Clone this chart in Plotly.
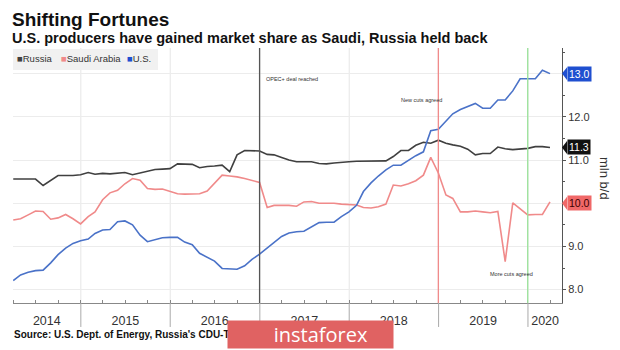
import pandas as pd
import plotly.graph_objects as go

# ---------------- data ----------------
months = pd.date_range("2014-03-31", periods=73, freq="ME")

russia = [10.56, 10.56, 10.55, 10.56, 10.41, 10.53, 10.64, 10.64, 10.64, 10.66,
          10.71, 10.67, 10.69, 10.68, 10.70, 10.71, 10.66, 10.70, 10.74, 10.78,
          10.79, 10.80, 10.91, 10.91, 10.90, 10.82, 10.85, 10.86, 10.88, 10.73,
          11.12, 11.22, 11.22, 11.21, 11.13, 11.12, 11.06, 11.00, 10.96, 10.96,
          10.96, 10.92, 10.91, 10.93, 10.95, 10.96, 10.97, 10.97, 10.97, 10.97,
          10.98, 11.08, 11.22, 11.22, 11.34, 11.41, 11.39, 11.46, 11.39, 11.35,
          11.32, 11.25, 11.12, 11.15, 11.15, 11.30, 11.26, 11.24, 11.25, 11.27,
          11.31, 11.31, 11.29]

saudi = [9.61, 9.64, 9.73, 9.82, 9.81, 9.63, 9.66, 9.74, 9.64, 9.52,
         9.69, 9.80, 10.08, 10.24, 10.30, 10.45, 10.57, 10.53, 10.34, 10.32,
         10.33, 10.27, 10.22, 10.21, 10.21, 10.22, 10.28, 10.45, 10.65, 10.63,
         10.61, 10.57, 10.53, 10.48, 9.90, 9.95, 9.95, 9.95, 9.93, 10.03,
         10.04, 10.00, 10.00, 10.00, 9.98, 9.97, 9.96, 9.90, 9.89, 9.92,
         9.98, 10.42, 10.40, 10.45, 10.52, 10.65, 11.06, 10.70, 10.19, 10.11,
         9.80, 9.80, 9.82, 9.80, 9.78, 9.81, 8.65, 10.01, 9.88, 9.73,
         9.74, 9.74, 10.03]

us = [8.21, 8.34, 8.40, 8.44, 8.45, 8.62, 8.81, 8.96, 9.07, 9.13,
      9.17, 9.30, 9.38, 9.39, 9.57, 9.59, 9.50, 9.26, 9.11, 9.16,
      9.20, 9.21, 9.21, 9.10, 9.04, 8.84, 8.74, 8.66, 8.49, 8.48,
      8.47, 8.55, 8.70, 8.82, 8.96, 9.07, 9.23, 9.31, 9.34, 9.35,
      9.45, 9.55, 9.56, 9.56, 9.69, 9.80, 9.95, 10.27, 10.47, 10.63,
      10.77, 10.88, 10.88, 11.00, 11.10, 11.19, 11.68, 11.71, 11.89, 12.07,
      12.17, 12.24, 12.31, 12.20, 12.20, 12.39, 12.39, 12.60, 12.88, 12.88,
      12.88, 13.08, 13.00]

year_labels = ["2014", "2015", "2016", "2017", "2018", "2019", "2020"]
year_label_pos = ["2014-08-15", "2015-07-02", "2016-07-01", "2017-07-02",
                  "2018-07-02", "2019-07-02", "2020-03-11"]
year_bounds = ["2015-01-01", "2016-01-01", "2017-01-01", "2018-01-01",
               "2019-01-01", "2020-01-01"]

events = [("2016-12-31", "#555555", "OPEC+ deal reached", "2017-01-20", 12.875, "left"),
          ("2018-12-31", "#f08a8a", "New cuts agreed", "2018-10-22", 12.39, "center"),
          ("2019-12-31", "#9be39b", "More cuts agreed", "2019-10-26", 8.36, "center")]

tags = [("13.0", 13.0, "#1f4fd0", "white"),
        ("11.3", 11.29, "#111111", "white"),
        ("10.0", 10.0, "#f06868", "#3a0000")]

C_RUS, C_SAU, C_US = "#404040", "#f08a8a", "#4a72c8"

# ---------------- figure ----------------
W, H = 620, 350
L, R, T, B = 13, 58, 48, 47
pw, ph = W - L - R, H - T - B


def px_x(px):
    return (px - L) / pw


def px_y(py):
    return (H - B - py) / ph


fig = go.Figure()
for name, vals, col in [("Russia", russia, C_RUS), ("Saudi Arabia", saudi, C_SAU), ("U.S.", us, C_US)]:
    fig.add_trace(go.Scatter(x=months, y=vals, mode="lines", name=name,
                             line=dict(color=col, width=1.6), showlegend=False))

shapes = []
annotations = []

# year gridlines and dividers below axis
for d in year_bounds:
    shapes.append(dict(type="line", xref="x", yref="paper", x0=d, x1=d, y0=0, y1=1,
                       line=dict(color="#e6e6e6", width=1), layer="below"))
    shapes.append(dict(type="line", xref="x", yref="paper", x0=d, x1=d, y0=0, y1=-0.094,
                       line=dict(color="#aaaaaa", width=1)))

# event lines + texts
for d, col, txt, tx, ty, anc in events:
    shapes.append(dict(type="line", xref="x", yref="paper", x0=d, x1=d, y0=0, y1=1,
                       line=dict(color=col, width=1.3)))
    annotations.append(dict(x=tx, y=ty, xref="x", yref="y", text=txt, showarrow=False,
                            xanchor=anc, yanchor="middle",
                            font=dict(size=5.5, color="#333333", family="Liberation Sans")))

# value tags on right axis
for txt, val, bg, fc in tags:
    shapes.append(dict(type="path", xref="paper", yref="y",
                       path=f"M 1.0 {val} L 1.0095 {val + 0.155} L 1.0095 {val - 0.155} Z",
                       fillcolor=bg, line=dict(width=0)))
    annotations.append(dict(x=1.0, y=val, xref="paper", yref="y", text=txt, showarrow=False,
                            xanchor="left", yanchor="middle", xshift=5, bgcolor=bg, borderpad=1,
                            font=dict(size=10.5, color=fc, family="Liberation Sans")))

# legend box
shapes.append(dict(type="rect", xref="paper", yref="paper", x0=px_x(13), x1=px_x(158),
                   y0=px_y(70), y1=px_y(49), fillcolor="#f1f1f1", line=dict(width=0), layer="below"))
for lx, col, name in [(15, C_RUS, "Russia"), (59, C_SAU, "Saudi Arabia"), (125, "#1f4fd0", "U.S.")]:
    annotations.append(dict(x=px_x(lx), y=px_y(59), xref="paper", yref="paper", showarrow=False,
                            xanchor="left", yanchor="middle",
                            text=f'<span style="color:{col}">■</span>{name}',
                            font=dict(size=9.5, color="#333333", family="Liberation Sans")))

# titles
annotations.append(dict(x=px_x(10), y=px_y(20), xref="paper", yref="paper", showarrow=False,
                        xanchor="left", yanchor="middle", text="<b>Shifting Fortunes</b>",
                        font=dict(size=19, color="#111111", family="Liberation Sans")))
annotations.append(dict(x=px_x(10), y=px_y(38), xref="paper", yref="paper", showarrow=False,
                        xanchor="left", yanchor="middle",
                        text="<b>U.S. producers have gained market share as Saudi, Russia held back</b>",
                        font=dict(size=14.5, color="#111111", family="Liberation Sans")))
annotations.append(dict(x=px_x(12), y=px_y(334), xref="paper", yref="paper", showarrow=False,
                        xanchor="left", yanchor="middle",
                        text="<b>Source: U.S. Dept. of Energy, Russia's CDU-TEK</b>",
                        font=dict(size=10, color="#111111", family="Liberation Sans")))

# axis title
annotations.append(dict(x=px_x(605), y=px_y(178), xref="paper", yref="paper", showarrow=False,
                        text="mln b/d", textangle=90, xanchor="center", yanchor="middle",
                        font=dict(size=13, color="#333333", family="Liberation Sans")))

# watermark (drawn last so it covers what lies beneath)
annotations.append(dict(x=px_x(310.5), y=px_y(334.5), xref="paper", yref="paper", showarrow=False,
                        xanchor="center", yanchor="middle", width=165, height=27,
                        bgcolor="#e06262", borderpad=0, align="center", valign="middle",
                        text="    instaforex", font=dict(size=20, color="white", family="Open Sans")))

fig.update_layout(
    width=W, height=H, margin=dict(l=L, r=R, t=T, b=B),
    paper_bgcolor="white", plot_bgcolor="white",
    shapes=shapes, annotations=annotations, showlegend=False,
    xaxis=dict(range=["2014-03-30", "2020-05-19"], tickmode="array",
               tickvals=year_label_pos, ticktext=year_labels, ticks="",
               showgrid=False, zeroline=False, ticklabelstandoff=6,
               showline=True, linecolor="#888888", linewidth=1,
               tickfont=dict(size=12.5, color="#333333", family="Liberation Sans"),
               minor=dict(tickmode="linear", tick0="2014-01-01", dtick="M3",
                          ticks="inside", ticklen=3, tickcolor="#888888", showgrid=False)),
    yaxis=dict(side="right", range=[7.69, 13.593], tickmode="array",
               tickvals=[8, 9, 10, 11, 12, 13], tickformat=".1f",
               ticks="outside", ticklen=3, tickcolor="#555555",
               showgrid=True, gridcolor="#ececec", zeroline=False,
               showline=True, linecolor="#555555", linewidth=1,
               tickfont=dict(size=11, color="#333333", family="Liberation Sans Narrow, Liberation Sans"),
               minor=dict(tickmode="linear", tick0=7.5, dtick=0.5, ticks="outside",
                          ticklen=2, tickcolor="#555555", showgrid=False)),
)

fig.write_html("out.html")
